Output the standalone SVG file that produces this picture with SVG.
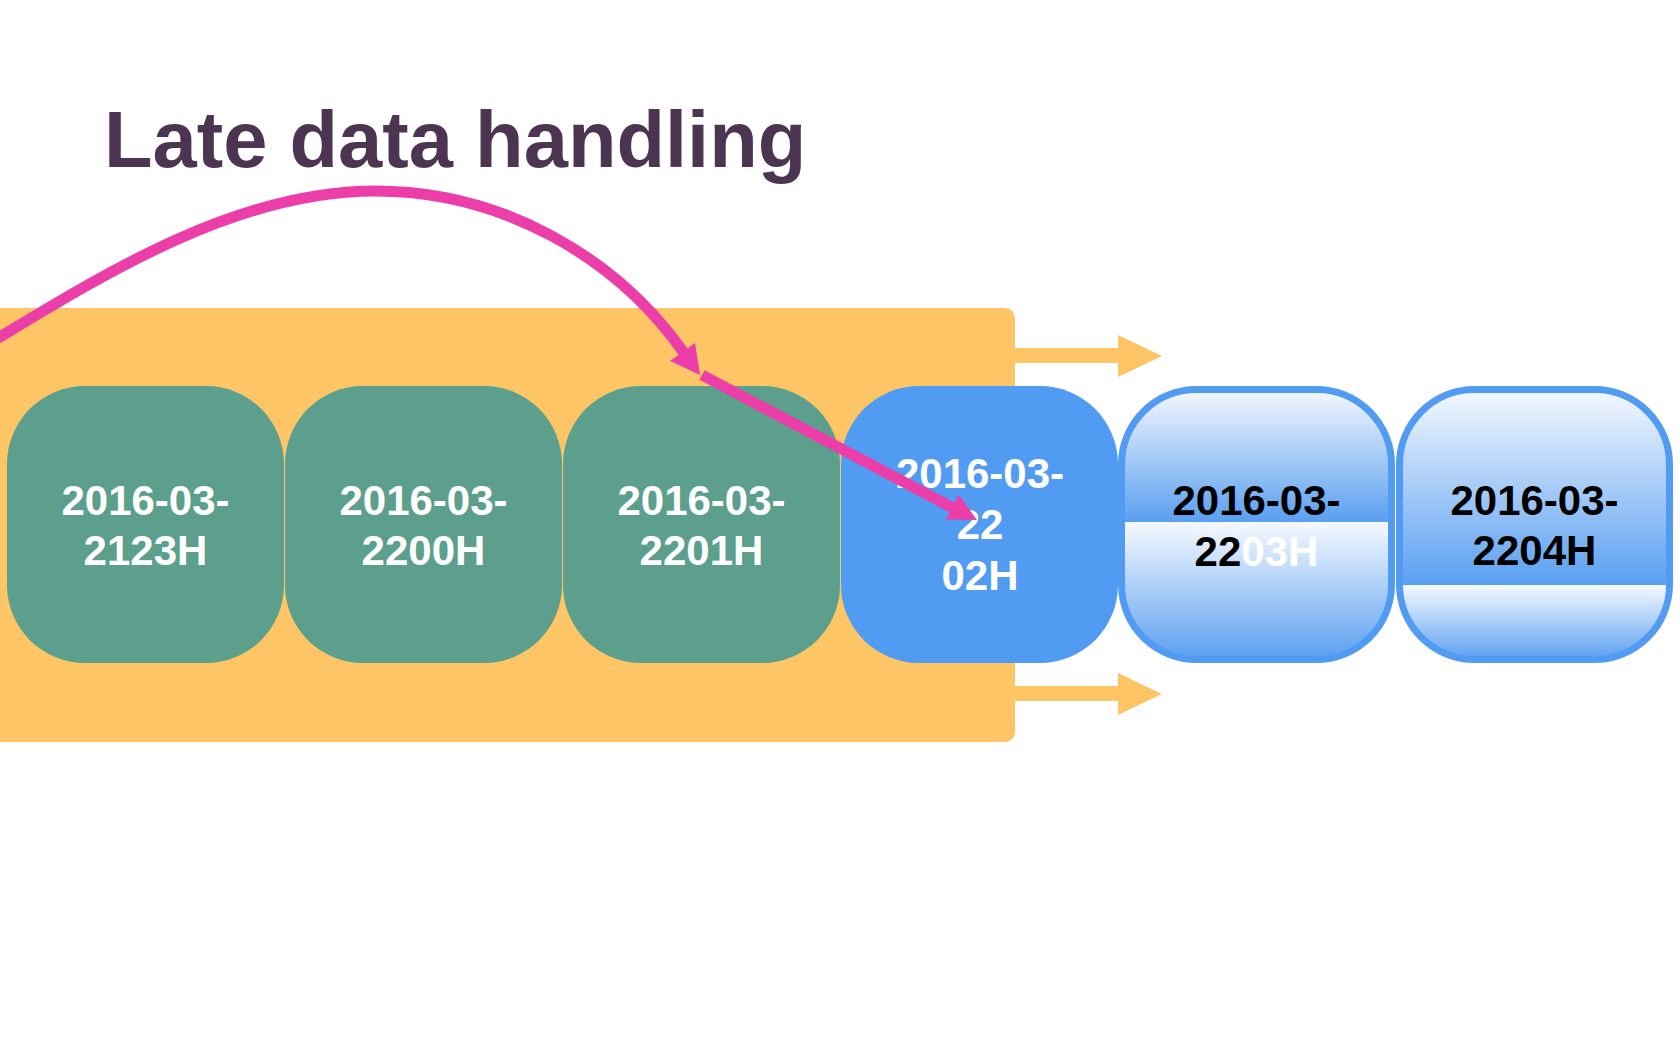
<svg xmlns="http://www.w3.org/2000/svg" width="1680" height="1050" viewBox="0 0 1680 1050">
  <style>
    .lbl { font-family: "Liberation Sans", Arial, sans-serif; font-weight: bold; font-size: 42px; text-anchor: middle; }
    .w { fill: #ffffff; }
    .k { fill: #000000; }
    .green { fill: #5b9f8c; }
    .blue { fill: #519cf2; }
    .glass { stroke: #519cf2; stroke-width: 7; }
    .pink { fill: none; stroke: #eb3ea8; stroke-width: 11; }
    .pinkhead { fill: #eb3ea8; }
    .yarrow { fill: #fdc566; }
  </style>
  <defs>
    <linearGradient id="g5" gradientUnits="userSpaceOnUse" x1="0" y1="390" x2="0" y2="660">
      <stop offset="0" stop-color="#f4f8fe"/>
      <stop offset="0.488" stop-color="#5a9ff0"/>
      <stop offset="0.488" stop-color="#f6faff"/>
      <stop offset="1" stop-color="#5a9ff0"/>
    </linearGradient>
    <linearGradient id="g6" gradientUnits="userSpaceOnUse" x1="0" y1="390" x2="0" y2="660">
      <stop offset="0" stop-color="#f4f8fe"/>
      <stop offset="0.722" stop-color="#5a9ff0"/>
      <stop offset="0.722" stop-color="#f6faff"/>
      <stop offset="1" stop-color="#5a9ff0"/>
    </linearGradient>
  </defs>
  <rect width="1680" height="1050" fill="#ffffff"/>

  <g id="title">
    <text x="104" y="167" font-family="'Liberation Sans', Arial, sans-serif" font-weight="bold" font-size="79.5" fill="#4b3550">Late data handling</text>
  </g>

  <g id="window">
    <rect x="-20" y="308" width="1035" height="434" rx="10" fill="#fdc566"/>
  </g>

  <g id="node-2123">
    <rect class="green" x="7" y="386" width="277" height="277" rx="78"/>
    <text class="lbl w" x="145.5" y="515">2016-03-</text>
    <text class="lbl w" x="145.5" y="565">2123H</text>
  </g>
  <g id="node-2200">
    <rect class="green" x="285" y="386" width="277" height="277" rx="78"/>
    <text class="lbl w" x="423.5" y="515">2016-03-</text>
    <text class="lbl w" x="423.5" y="565">2200H</text>
  </g>
  <g id="node-2201">
    <rect class="green" x="563" y="386" width="277" height="277" rx="78"/>
    <text class="lbl w" x="701.5" y="515">2016-03-</text>
    <text class="lbl w" x="701.5" y="565">2201H</text>
  </g>
  <g id="node-2202">
    <rect class="blue" x="841" y="386" width="277" height="277" rx="78"/>
    <text class="lbl w" x="980" y="488">2016-03-</text>
    <text class="lbl w" x="980" y="539">22</text>
    <text class="lbl w" x="980" y="590">02H</text>
  </g>
  <g id="node-2203">
    <rect class="glass" x="1121.5" y="389.5" width="270" height="270" rx="75" fill="url(#g5)"/>
    <text class="lbl k" x="1256.5" y="515">2016-03-</text>
    <text class="lbl" x="1256.5" y="566"><tspan class="k">22</tspan><tspan class="w">03H</tspan></text>
  </g>
  <g id="node-2204">
    <rect class="glass" x="1399.5" y="389.5" width="270" height="270" rx="75" fill="url(#g6)"/>
    <text class="lbl k" x="1534.5" y="515">2016-03-</text>
    <text class="lbl k" x="1534.5" y="565">2204H</text>
  </g>

  <g id="connectors">
    <polygon class="yarrow" points="1015,348 1118,348 1118,335 1162,356 1118,377 1118,363 1015,363"/>
    <polygon class="yarrow" points="1015,686 1118,686 1118,673 1162,694 1118,715 1118,701 1015,701"/>
    <path class="pink" d="M -20 349 C 90 283, 230 191, 375 191 C 500 191, 615 255, 684 353"/>
    <polygon class="pinkhead" points="700,375 695,343 670,361"/>
    <line class="pink" x1="702" y1="375" x2="953" y2="508"/>
    <polygon class="pinkhead" points="977,520 945.7,519.4 958.7,494.6"/>
  </g>
</svg>
